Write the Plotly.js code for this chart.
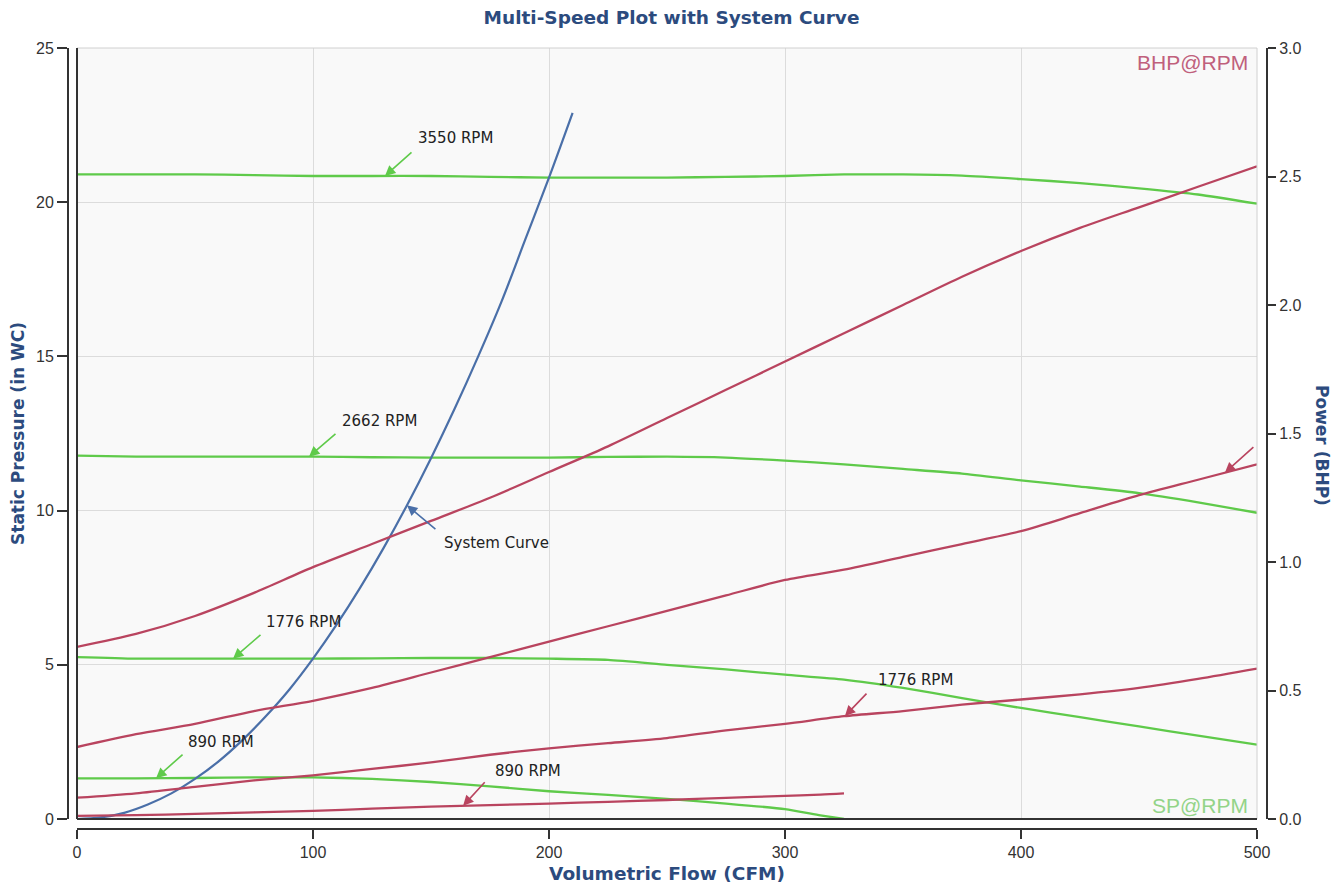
<!DOCTYPE html>
<html>
<head>
<meta charset="utf-8">
<script src="https://cdn.plot.ly/plotly-3.0.1.min.js"></script>
<style>html,body{margin:0;padding:0;background:#fff;}#chart{width:1343px;height:890px;}</style>
</head>
<body>
<div id="chart"></div>
<script>
// ---- data ----
const flow500 = [0,25,50,75,100,125,150,175,200,225,250,275,300,325,350,375,400,425,450,475,500];
const flow890 = [0,25,50,75,100,125,150,175,200,225,250,275,300,315,325];
const flowSystem = [0,10,20,30,40,50,60,70,80,90,100,110,120,130,140,150,160,170,180,190,200,210];

// Static pressure (in WC) at each speed
const sp3550 = [20.9,20.9,20.9,20.88,20.85,20.85,20.85,20.82,20.8,20.8,20.8,20.82,20.85,20.9,20.9,20.86,20.75,20.62,20.45,20.25,19.95];
const sp2662 = [11.78,11.75,11.75,11.75,11.75,11.73,11.72,11.72,11.72,11.74,11.75,11.72,11.62,11.5,11.35,11.2,10.98,10.78,10.57,10.27,9.93];
const sp1776 = [5.25,5.2,5.2,5.2,5.2,5.21,5.22,5.22,5.2,5.16,5.0,4.85,4.68,4.52,4.25,3.92,3.6,3.3,3.0,2.7,2.41];
const sp890  = [1.32,1.32,1.33,1.35,1.35,1.3,1.2,1.06,0.9,0.78,0.65,0.5,0.32,0.12,0];

// Power (BHP) at each speed
const bhp3550 = [0.67,0.72,0.79,0.88,0.98,1.07,1.16,1.25,1.35,1.45,1.56,1.67,1.78,1.89,2.0,2.11,2.21,2.3,2.38,2.46,2.54];
const bhp2662 = [0.28,0.33,0.37,0.42,0.46,0.51,0.57,0.63,0.69,0.75,0.81,0.87,0.93,0.97,1.02,1.07,1.12,1.19,1.26,1.32,1.38];
const bhp1776 = [0.083,0.10,0.125,0.15,0.17,0.195,0.22,0.25,0.275,0.295,0.315,0.345,0.37,0.40,0.42,0.445,0.465,0.485,0.51,0.545,0.585];
const bhp890  = [0.012,0.015,0.02,0.026,0.032,0.04,0.048,0.054,0.06,0.067,0.074,0.082,0.09,0.095,0.1];

// System curve static pressure
const systemSP = [0,0.05,0.2,0.47,0.83,1.3,1.87,2.55,3.33,4.2,5.2,6.3,7.5,8.8,10.2,11.7,13.3,15.0,16.8,18.8,20.8,22.9];

const speedLabels = ['3550 RPM','2662 RPM','1776 RPM','890 RPM'];
const systemLabel = 'System Curve';

// ---- styles ----
const GREEN = '#5fca4a';
const RED = '#b9445f';
const BLUE = '#4a6fa8';
const TITLE_BLUE = '#2c4b7e';

function interp(xs, ys, x) {
  for (let i = 0; i < xs.length - 1; i++) {
    if (x >= xs[i] && x <= xs[i+1]) {
      const t = (x - xs[i]) / (xs[i+1] - xs[i]);
      return ys[i] + t * (ys[i+1] - ys[i]);
    }
  }
  return ys[ys.length-1];
}

const traces = [];
[[flow500, sp3550],[flow500, sp2662],[flow500, sp1776],[flow890, sp890]].forEach((d, i) => {
  traces.push({x: d[0], y: d[1], type: 'scatter', mode: 'lines', name: 'SP ' + speedLabels[i],
    line: {color: GREEN, width: 2.3, shape: 'spline', smoothing: 0.6}, yaxis: 'y', hoverinfo: 'x+y'});
});
[[flow500, bhp3550],[flow500, bhp2662],[flow500, bhp1776],[flow890, bhp890]].forEach((d, i) => {
  traces.push({x: d[0], y: d[1], type: 'scatter', mode: 'lines', name: 'BHP ' + speedLabels[i],
    line: {color: RED, width: 2.3, shape: 'spline', smoothing: 0.8}, yaxis: 'y2', hoverinfo: 'x+y'});
});
traces.push({x: flowSystem, y: systemSP, type: 'scatter', mode: 'lines', name: systemLabel,
  line: {color: BLUE, width: 2.2, shape: 'spline'}, yaxis: 'y'});

// label / arrow placement (head on the curve, tail & text offsets in px)
const callouts = [
  {xs: flow500, ys: sp3550, at: 130.5, yref: 'y', color: GREEN, ax: 28, ay: -25, text: speedLabels[0], dx: 31, dy: -38},
  {xs: flow500, ys: sp2662, at: 98.3, yref: 'y', color: GREEN, ax: 28, ay: -24, text: speedLabels[1], dx: 31, dy: -36},
  {xs: flow500, ys: sp1776, at: 66.1, yref: 'y', color: GREEN, ax: 29, ay: -25, text: speedLabels[2], dx: 31, dy: -37},
  {xs: flow890, ys: sp890, at: 33.5, yref: 'y', color: GREEN, ax: 28, ay: -25, text: speedLabels[3], dx: 30, dy: -36},
  {xs: flowSystem, ys: systemSP, at: 139.8, yref: 'y', color: BLUE, ax: 30, ay: 25, text: systemLabel, dx: 35, dy: 38},
  {xs: flow500, ys: bhp1776, at: 325.4, yref: 'y2', color: RED, ax: 23, ay: -24, text: speedLabels[2], dx: 31, dy: -36},
  {xs: flow890, ys: bhp890, at: 163.6, yref: 'y2', color: RED, ax: 23, ay: -25, text: speedLabels[3], dx: 30, dy: -35},
  {xs: flow500, ys: bhp2662, at: 486.4, yref: 'y2', color: RED, ax: 30, ay: -27, text: '', dx: 0, dy: 0}
];

const LABEL_FONT = {family: 'DejaVu Sans, Verdana, sans-serif', size: 15, color: '#222'};
const annotations = [];
callouts.forEach(c => {
  const yv = interp(c.xs, c.ys, c.at);
  annotations.push({x: c.at, y: yv, xref: 'x', yref: c.yref, text: '', showarrow: true,
    ax: c.ax, ay: c.ay, arrowcolor: c.color, arrowhead: 2, arrowsize: 1.3, arrowwidth: 1.6, standoff: 0});
  if (c.text) {
    annotations.push({x: c.at, y: yv, xref: 'x', yref: c.yref, text: c.text, showarrow: false,
      xanchor: 'left', yanchor: 'middle', xshift: c.dx, yshift: -c.dy, font: LABEL_FONT});
  }
});

// layout geometry
const W = 1343, H = 890;
const M = {l: 40, r: 40, t: 48, b: 50};
const PW = W - M.l - M.r, PH = H - M.t - M.b;
const px = v => (v - M.l) / PW;
const py = v => (H - M.b - v) / PH;

annotations.push({xref: 'paper', yref: 'paper', x: px(1322), y: py(445), text: '<b>Power (BHP)</b>',
  textangle: 90, showarrow: false, xanchor: 'center', yanchor: 'middle',
  font: {family: 'DejaVu Sans, Verdana, sans-serif', size: 17, color: TITLE_BLUE}});
annotations.push({xref: 'paper', yref: 'paper', x: px(1250), y: py(63), text: 'BHP@RPM', showarrow: false,
  xanchor: 'right', yanchor: 'middle', font: {family: 'Liberation Sans, Arial, sans-serif', size: 21, color: '#c0607c'}});
annotations.push({xref: 'paper', yref: 'paper', x: px(1250), y: py(805), text: 'SP@RPM', showarrow: false,
  xanchor: 'right', yanchor: 'middle', font: {family: 'Liberation Sans, Arial, sans-serif', size: 21, color: '#93d488'}});

const TICK_FONT = {family: 'Liberation Sans, Arial, sans-serif', size: 16, color: '#333'};
const AX_TITLE_FONT = {family: 'DejaVu Sans, Verdana, sans-serif', size: 17, color: TITLE_BLUE};

const layout = {
  width: W, height: H,
  margin: M,
  paper_bgcolor: '#ffffff',
  plot_bgcolor: '#f9f9f9',
  showlegend: false,
  title: {text: '<b>Multi-Speed Plot with System Curve</b>', x: 0.5, xref: 'paper', y: 1 - 18/H, yanchor: 'middle',
    font: {family: 'DejaVu Sans, Verdana, sans-serif', size: 18.5, color: TITLE_BLUE}},
  xaxis: {
    domain: [px(77), px(1257)], range: [0, 500], dtick: 100, anchor: 'free', position: py(829),
    showline: true, linecolor: '#333', linewidth: 2, ticks: 'outside', ticklen: 9, tickwidth: 2, tickcolor: '#333',
    showgrid: true, gridcolor: '#dcdcdc', gridwidth: 1, zeroline: false, tickfont: TICK_FONT,
    title: {text: '<b>Volumetric Flow (CFM)</b>', font: {family: 'DejaVu Sans, Verdana, sans-serif', size: 18.5, color: TITLE_BLUE}, standoff: 6}
  },
  yaxis: {
    domain: [py(819), 1], range: [0, 25], dtick: 5, anchor: 'free', position: px(68), side: 'left',
    showline: true, linecolor: '#333', linewidth: 2, ticks: 'outside', ticklen: 10, tickwidth: 2, tickcolor: '#333',
    showgrid: true, gridcolor: '#dcdcdc', gridwidth: 1, zeroline: false, tickfont: TICK_FONT,
    title: {text: '<b>Static Pressure (in WC)</b>', font: AX_TITLE_FONT, standoff: 6}
  },
  yaxis2: {
    overlaying: 'y', side: 'right', range: [0, 3], dtick: 0.5, tickformat: '.1f', anchor: 'free', position: px(1267),
    showline: true, linecolor: '#333', linewidth: 2, ticks: 'outside', ticklen: 8, tickwidth: 2, tickcolor: '#333',
    showgrid: false, zeroline: false, tickfont: TICK_FONT
  },
  shapes: [
    {type: 'line', xref: 'x domain', yref: 'y domain', x0: 0, x1: 1, y0: 1, y1: 1, line: {color: '#d0d0d0', width: 1}},
    {type: 'line', xref: 'x domain', yref: 'y domain', x0: 1, x1: 1, y0: 0, y1: 1, line: {color: '#d0d0d0', width: 1}},
    {type: 'line', xref: 'x domain', yref: 'y domain', x0: 0, x1: 0, y0: 0, y1: 1, line: {color: '#333', width: 2}},
    {type: 'line', xref: 'x domain', yref: 'y domain', x0: 0, x1: 1, y0: 0, y1: 0, line: {color: '#333', width: 2}}
  ],
  annotations: annotations
};

Plotly.newPlot('chart', traces, layout, {displayModeBar: false, responsive: false});
</script>
</body>
</html>
